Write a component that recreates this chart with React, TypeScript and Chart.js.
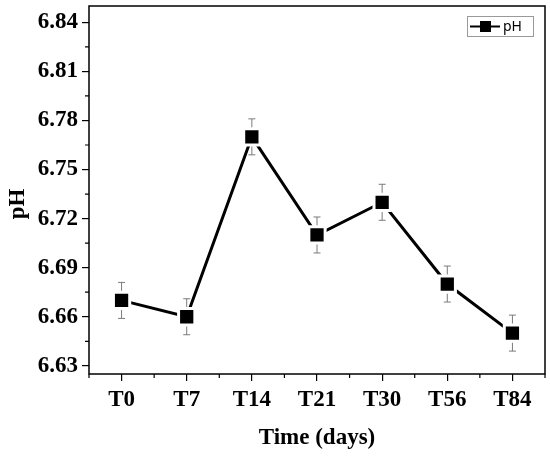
import { useEffect, useRef } from 'react';
import { Chart, registerables } from 'chart.js';

Chart.register(...registerables);

// Chart data
const timePoints = ['T0', 'T7', 'T14', 'T21', 'T30', 'T56', 'T84'];
const phValues = [6.67, 6.66, 6.77, 6.71, 6.73, 6.68, 6.65];
const phErrors = [0.011, 0.011, 0.011, 0.011, 0.011, 0.011, 0.011];
const yTicks = [6.63, 6.66, 6.69, 6.72, 6.75, 6.78, 6.81, 6.84];
const yMinorTicks = [6.645, 6.675, 6.705, 6.735, 6.765, 6.795, 6.825];

const serif = '"Liberation Serif", "Times New Roman", serif';

// Frame, minor ticks, error bars, axis titles and legend
const decorations = {
  id: 'decorations',
  beforeDatasetsDraw(chart: any) {
    const { ctx, chartArea, scales } = chart;
    const { left, right, top, bottom } = chartArea;
    ctx.save();

    // error bars
    ctx.strokeStyle = '#7a7a7a';
    ctx.lineWidth = 1;
    phValues.forEach((v, i) => {
      const x = scales.x.getPixelForValue(i);
      const yTop = scales.y.getPixelForValue(v + phErrors[i]);
      const yBot = scales.y.getPixelForValue(v - phErrors[i]);
      ctx.beginPath();
      ctx.moveTo(x, yTop);
      ctx.lineTo(x, yBot);
      ctx.moveTo(x - 3.5, yTop);
      ctx.lineTo(x + 3.5, yTop);
      ctx.moveTo(x - 3.5, yBot);
      ctx.lineTo(x + 3.5, yBot);
      ctx.stroke();
    });

    // frame
    ctx.strokeStyle = '#000';
    ctx.lineWidth = 1.5;
    ctx.strokeRect(left, top, right - left, bottom - top);

    // minor ticks
    ctx.lineWidth = 1.2;
    ctx.beginPath();
    yMinorTicks.forEach((t) => {
      const y = scales.y.getPixelForValue(t);
      ctx.moveTo(left - 4, y);
      ctx.lineTo(left, y);
    });
    for (let i = 0; i <= timePoints.length; i++) {
      const x = scales.x.getPixelForValue(i - 0.5);
      ctx.moveTo(x, bottom);
      ctx.lineTo(x, bottom + 4);
    }
    ctx.stroke();

    // axis titles
    ctx.fillStyle = '#000';
    ctx.font = `bold 23px ${serif}`;
    ctx.textAlign = 'center';
    ctx.textBaseline = 'middle';
    ctx.fillText('Time (days)', (left + right) / 2, 438);
    ctx.save();
    ctx.translate(18, 204);
    ctx.rotate(-Math.PI / 2);
    ctx.fillText('pH', 0, 0);
    ctx.restore();

    // legend
    ctx.strokeStyle = '#9a9a9a';
    ctx.lineWidth = 1;
    ctx.strokeRect(467.5, 16.5, 66, 20);
    ctx.strokeStyle = '#000';
    ctx.lineWidth = 2;
    ctx.beginPath();
    ctx.moveTo(470, 26.5);
    ctx.lineTo(500, 26.5);
    ctx.stroke();
    ctx.fillStyle = '#000';
    ctx.fillRect(480, 21, 11, 11);
    ctx.font = '14px "Noto Sans", "DejaVu Sans", sans-serif';
    ctx.textAlign = 'left';
    ctx.fillText('pH', 503, 27);

    ctx.restore();
  }
};

export default function App() {
  const canvasRef = useRef<HTMLCanvasElement>(null);

  useEffect(() => {
    document.body.style.margin = '0';
    if (!canvasRef.current) return;

    const chart = new Chart(canvasRef.current, {
      type: 'line',
      data: {
        labels: timePoints,
        datasets: [{
          label: 'pH',
          data: phValues,
          borderColor: '#000',
          borderWidth: 3,
          pointStyle: 'rect',
          pointRadius: 11.5,
          pointBackgroundColor: '#000',
          pointBorderColor: '#fff',
          pointBorderWidth: 3,
          tension: 0
        }]
      },
      options: {
        animation: false,
        responsive: true,
        maintainAspectRatio: false,
        layout: { autoPadding: false, padding: { top: 6, right: 5, left: 0, bottom: 0 } },
        plugins: {
          legend: { display: false },
          tooltip: { enabled: false }
        },
        scales: {
          x: {
            offset: true,
            grid: { drawOnChartArea: false, drawTicks: true, tickLength: 7, color: '#000', lineWidth: 1.2 },
            border: { display: false },
            ticks: { color: '#000', padding: 5, font: { family: serif, size: 23, weight: 'bold' } },
            afterFit: (scale: any) => {
              scale.height = 82;
              scale.paddingLeft = 0;
              scale.paddingRight = 0;
            }
          },
          y: {
            min: 6.625,
            max: 6.85,
            grid: { drawOnChartArea: false, drawTicks: true, tickLength: 7, color: '#000', lineWidth: 1.2 },
            border: { display: false },
            afterBuildTicks: (scale: any) => { scale.ticks = yTicks.map((v) => ({ value: v })); },
            ticks: {
              color: '#000',
              padding: 4,
              font: { family: serif, size: 23, weight: 'bold' },
              callback: (v: any) => Number(v).toFixed(2)
            },
            afterFit: (scale: any) => {
              scale.width = 89;
              scale.paddingTop = 0;
              scale.paddingBottom = 0;
            }
          }
        }
      },
      plugins: [decorations]
    });

    return () => chart.destroy();
  }, []);

  return (
    <div style={{ width: 550, height: 456, position: 'relative' }}>
      <canvas ref={canvasRef}></canvas>
    </div>
  );
}
